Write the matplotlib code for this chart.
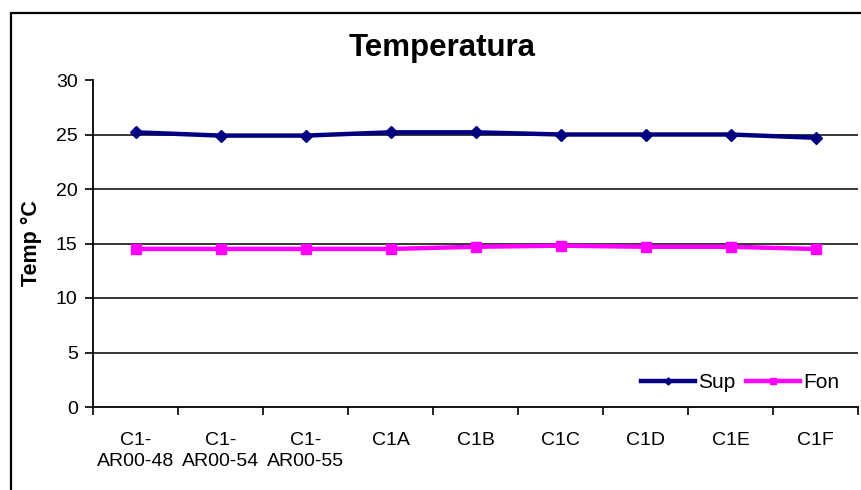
import matplotlib
matplotlib.use("Agg")
import matplotlib.pyplot as plt
import numpy as np
from matplotlib.patches import Rectangle

plt.rcParams["font.family"] = ["Liberation Sans", "DejaVu Sans"]

stations = ["C1-\nAR00-48", "C1-\nAR00-54", "C1-\nAR00-55", "C1A", "C1B",
            "C1C", "C1D", "C1E", "C1F"]
sup = [25.2, 24.9, 24.9, 25.2, 25.2, 25.0, 25.0, 25.0, 24.7]
fon = [14.5, 14.5, 14.5, 14.5, 14.7, 14.8, 14.7, 14.7, 14.5]
y_ticks = [0, 5, 10, 15, 20, 25, 30]

fig = plt.figure(figsize=(8.61, 4.90), dpi=100)
ax = fig.add_axes([93 / 861, 1 - 407 / 490, 765 / 861, 327 / 490])

# chart frame, runs off the right and bottom edges
fig.patches.append(Rectangle((11 / 861, -0.1), 1.2, 1 - 13 / 490 + 0.1,
                             transform=fig.transFigure, fill=False,
                             edgecolor="black", linewidth=1.6))

x = np.arange(len(stations)) + 0.5
ax.plot(x, sup, color="#000080", lw=3.2, marker="D", ms=6, label="Sup")
ax.plot(x, fon, color="#FF00FF", lw=3.2, marker="s", ms=7, label="Fon")

ax.set_xlim(0, len(stations))
ax.set_ylim(0, 30)
ax.set_yticks(y_ticks)
for v in y_ticks[1:-1]:
    ax.axhline(v, color="black", lw=1.1, zorder=0)

ax.set_xticks(x)
ax.set_xticklabels(stations, fontsize=14, linespacing=1.3)
ax.set_xticks(np.arange(len(stations) + 1), minor=True)
ax.tick_params(axis="x", which="major", length=0, pad=18)
ax.tick_params(axis="x", which="minor", length=6, width=1.2, direction="out")
ax.tick_params(axis="y", labelsize=14, length=6, width=1.2, pad=5)

for s in ["top", "right"]:
    ax.spines[s].set_visible(False)
ax.spines["left"].set_linewidth(1.3)
ax.spines["bottom"].set_linewidth(1.3)

ax.set_ylabel("Temp °C", fontsize=15.5, fontweight="bold", labelpad=10)
fig.text(0.514, 1 - 48 / 490, "Temperatura", ha="center", va="center",
         fontsize=22.5, fontweight="bold")

ax.legend(loc="center right", bbox_to_anchor=(1.0, 0.075), ncol=2,
          frameon=False, fontsize=15, handlelength=2.6, handletextpad=0.15,
          columnspacing=0.5, markerscale=0.6)

fig.savefig("out.png", dpi=100)
